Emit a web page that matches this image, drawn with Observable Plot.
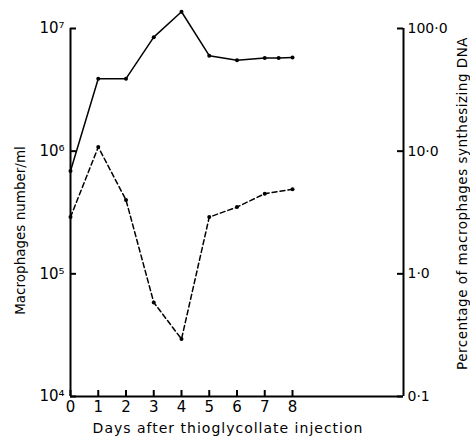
<!DOCTYPE html>
<html><head><meta charset="utf-8">
<script src="https://cdn.jsdelivr.net/npm/d3@7"></script>
<script src="https://cdn.jsdelivr.net/npm/@observablehq/plot@0.6"></script>
<style>
body{margin:0;background:#fff;}
</style>
</head><body><div id="chart"></div>
<script>
// Macrophage number per ml (solid line)
const days = [0, 1, 2, 3, 4, 5, 6, 7, 7.5, 8];
const macrophages = [6.9e5, 3.9e6, 3.9e6, 8.5e6, 1.37e7, 6.0e6, 5.5e6, 5.75e6, 5.75e6, 5.8e6];
// Percentage of macrophages synthesizing DNA (dashed line)
const pctDays = [0, 1, 2, 3, 4, 5, 6, 7, 8];
const pctDNA = [2.9, 10.8, 4.0, 0.585, 0.294, 2.9, 3.5, 4.5, 4.9];
// Axis ticks and labels
const yTicks = [1e4, 1e5, 1e6, 1e7];
const leftTickLabels = ["10⁴", "10⁵", "10⁶", "10⁷"];
const rightTickLabels = ["0·1", "1·0", "10·0", "100·0"];
const dayTicks = [0, 1, 2, 3, 4, 5, 6, 7, 8];
const xTitle = "Days after thioglycollate injection";
const yTitleLeft = "Macrophages number/ml";
const yTitleRight = "Percentage of macrophages synthesizing DNA";
// right axis: 100% aligned with 1e7 on the left axis
const pctFactor = 1e5;
const xEnd = 12;

const solid = days.map((d, i) => ({day: d, value: macrophages[i]}));
const dashed = pctDays.map((d, i) => ({day: d, value: pctDNA[i] * pctFactor}));

const W = 470, H = 440, mL = 70, mR = 67, mT = 28, mB = 44, tick = 6;

const chart = Plot.plot({
  width: W, height: H,
  marginLeft: mL, marginRight: mR, marginTop: mT, marginBottom: mB,
  style: {fontFamily: "'DejaVu Sans', sans-serif", fontSize: "14px", background: "white", color: "black"},
  x: {domain: [0, xEnd]},
  y: {type: "log", domain: [1e4, 1e7]},
  marks: [
    // inward-pointing tick marks: frame-spanning rules trimmed by pixel insets
    Plot.ruleX(dayTicks, {x: d => d, insetTop: H - mT - mB - tick, stroke: "black", strokeWidth: 2}),
    Plot.ruleY(yTicks, {y: d => d, insetRight: W - mL - mR - tick, stroke: "black", strokeWidth: 2}),
    Plot.ruleY(yTicks, {y: d => d, insetLeft: W - mL - mR - tick, stroke: "black", strokeWidth: 2}),
    // tick labels
    Plot.axisX({ticks: dayTicks, tickSize: 0, tickPadding: 5, tickFormat: d => String(d), label: null, fontSize: 15}),
    Plot.axisY({anchor: "left", ticks: yTicks, tickSize: 0, tickPadding: 6, tickFormat: d => leftTickLabels[yTicks.indexOf(d)], label: null, fontSize: 15}),
    Plot.axisY({anchor: "right", ticks: yTicks, tickSize: 0, tickPadding: 4, tickFormat: d => rightTickLabels[yTicks.indexOf(d)], label: null, fontSize: 14}),
    // axis lines
    Plot.ruleX([0, xEnd], {strokeWidth: 2}),
    Plot.ruleY([1e4], {strokeWidth: 2}),
    Plot.line(solid, {x: "day", y: "value", stroke: "black", strokeWidth: 1.5}),
    Plot.dot(solid, {x: "day", y: "value", r: 2, fill: "black"}),
    Plot.line(dashed, {x: "day", y: "value", stroke: "black", strokeWidth: 1.5, strokeDasharray: "5,3"}),
    Plot.dot(dashed, {x: "day", y: "value", r: 2, fill: "black"}),
    Plot.text([xTitle], {frameAnchor: "bottom", textAnchor: "middle", lineAnchor: "middle", dx: -9, dy: 32, fontSize: 14}),
    Plot.text([yTitleLeft], {frameAnchor: "left", textAnchor: "middle", lineAnchor: "middle", dx: -50, dy: 18, rotate: -90, fontSize: 13.5}),
    Plot.text([yTitleRight], {frameAnchor: "right", textAnchor: "middle", lineAnchor: "middle", dx: 59, dy: -9, rotate: -90, fontSize: 13.5})
  ]
});
// widen letter spacing of titles as in the reference
const svg = d3.select(chart);
svg.selectAll("text").filter(function() { return this.textContent === xTitle; }).style("letter-spacing", "1px");
svg.selectAll("text").filter(function() { return this.textContent === yTitleRight; }).style("letter-spacing", "0.5px");
document.getElementById("chart").appendChild(chart);
</script>
</body></html>
